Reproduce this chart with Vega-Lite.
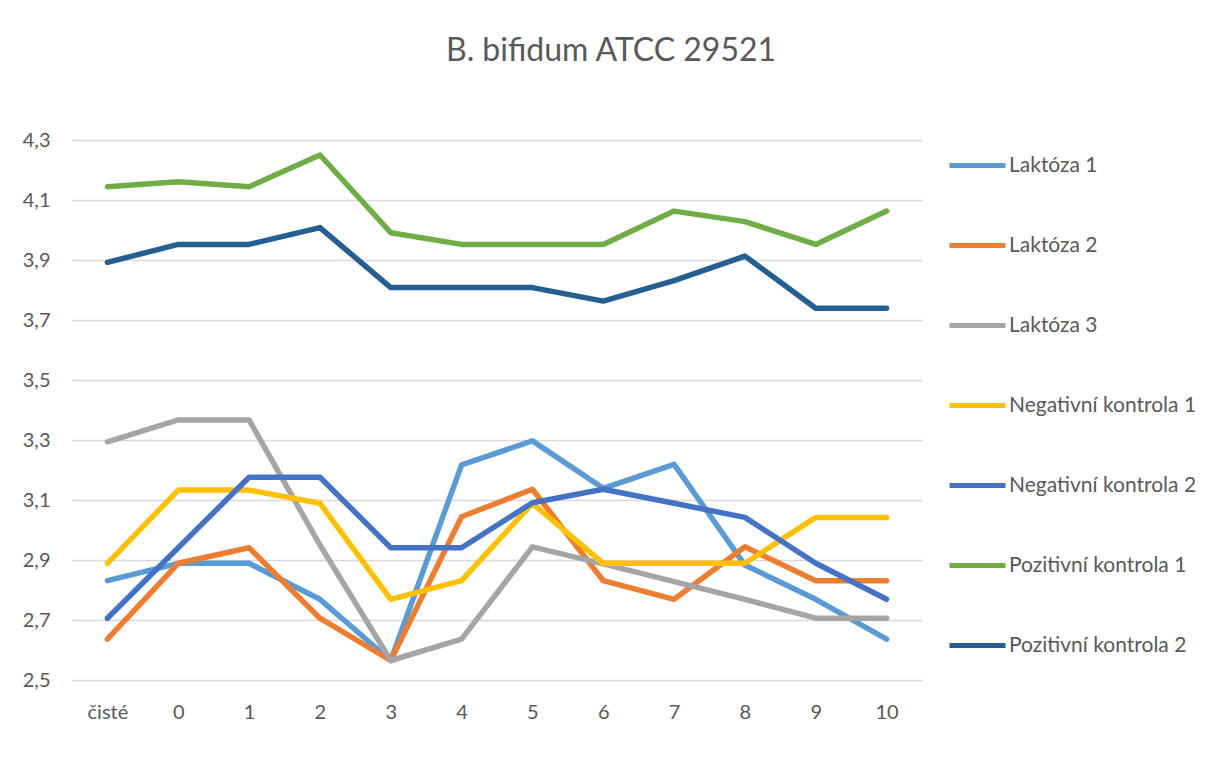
{
  "$schema": "https://vega.github.io/schema/vega-lite/v6.json",
  "autosize": {"type": "none"},
  "padding": {"left": 72, "top": 140, "right": 300, "bottom": 80},
  "width": 850,
  "height": 540,
  "background": "white",
  "title": {
    "text": "B. bifidum ATCC 29521",
    "anchor": "middle",
    "frame": "group",
    "dx": 114,
    "offset": 62,
    "font": "Lato",
    "fontSize": 32,
    "fontWeight": "normal",
    "color": "#595959"
  },
  "data": {
    "values": [
      {"t": "čisté", "s": "Laktóza 1", "v": 2.831},
      {"t": "0", "s": "Laktóza 1", "v": 2.889},
      {"t": "1", "s": "Laktóza 1", "v": 2.889},
      {"t": "2", "s": "Laktóza 1", "v": 2.769},
      {"t": "3", "s": "Laktóza 1", "v": 2.565},
      {"t": "4", "s": "Laktóza 1", "v": 3.217},
      {"t": "5", "s": "Laktóza 1", "v": 3.297},
      {"t": "6", "s": "Laktóza 1", "v": 3.139},
      {"t": "7", "s": "Laktóza 1", "v": 3.219},
      {"t": "8", "s": "Laktóza 1", "v": 2.883},
      {"t": "9", "s": "Laktóza 1", "v": 2.769},
      {"t": "10", "s": "Laktóza 1", "v": 2.636},
      {"t": "čisté", "s": "Laktóza 2", "v": 2.636},
      {"t": "0", "s": "Laktóza 2", "v": 2.889},
      {"t": "1", "s": "Laktóza 2", "v": 2.941},
      {"t": "2", "s": "Laktóza 2", "v": 2.706},
      {"t": "3", "s": "Laktóza 2", "v": 2.565},
      {"t": "4", "s": "Laktóza 2", "v": 3.044},
      {"t": "5", "s": "Laktóza 2", "v": 3.136},
      {"t": "6", "s": "Laktóza 2", "v": 2.831},
      {"t": "7", "s": "Laktóza 2", "v": 2.769},
      {"t": "8", "s": "Laktóza 2", "v": 2.944},
      {"t": "9", "s": "Laktóza 2", "v": 2.831},
      {"t": "10", "s": "Laktóza 2", "v": 2.831},
      {"t": "čisté", "s": "Laktóza 3", "v": 3.294},
      {"t": "0", "s": "Laktóza 3", "v": 3.367},
      {"t": "1", "s": "Laktóza 3", "v": 3.367},
      {"t": "2", "s": "Laktóza 3", "v": 2.95},
      {"t": "3", "s": "Laktóza 3", "v": 2.565},
      {"t": "4", "s": "Laktóza 3", "v": 2.636},
      {"t": "5", "s": "Laktóza 3", "v": 2.944},
      {"t": "6", "s": "Laktóza 3", "v": 2.887},
      {"t": "7", "s": "Laktóza 3", "v": 2.828},
      {"t": "8", "s": "Laktóza 3", "v": 2.769},
      {"t": "9", "s": "Laktóza 3", "v": 2.706},
      {"t": "10", "s": "Laktóza 3", "v": 2.706},
      {"t": "čisté", "s": "Negativní kontrola 1", "v": 2.889},
      {"t": "0", "s": "Negativní kontrola 1", "v": 3.133},
      {"t": "1", "s": "Negativní kontrola 1", "v": 3.133},
      {"t": "2", "s": "Negativní kontrola 1", "v": 3.089},
      {"t": "3", "s": "Negativní kontrola 1", "v": 2.769},
      {"t": "4", "s": "Negativní kontrola 1", "v": 2.831},
      {"t": "5", "s": "Negativní kontrola 1", "v": 3.089},
      {"t": "6", "s": "Negativní kontrola 1", "v": 2.889},
      {"t": "7", "s": "Negativní kontrola 1", "v": 2.889},
      {"t": "8", "s": "Negativní kontrola 1", "v": 2.889},
      {"t": "9", "s": "Negativní kontrola 1", "v": 3.042},
      {"t": "10", "s": "Negativní kontrola 1", "v": 3.042},
      {"t": "čisté", "s": "Negativní kontrola 2", "v": 2.706},
      {"t": "0", "s": "Negativní kontrola 2", "v": 2.941},
      {"t": "1", "s": "Negativní kontrola 2", "v": 3.176},
      {"t": "2", "s": "Negativní kontrola 2", "v": 3.176},
      {"t": "3", "s": "Negativní kontrola 2", "v": 2.941},
      {"t": "4", "s": "Negativní kontrola 2", "v": 2.941},
      {"t": "5", "s": "Negativní kontrola 2", "v": 3.091},
      {"t": "6", "s": "Negativní kontrola 2", "v": 3.136},
      {"t": "7", "s": "Negativní kontrola 2", "v": 3.089},
      {"t": "8", "s": "Negativní kontrola 2", "v": 3.042},
      {"t": "9", "s": "Negativní kontrola 2", "v": 2.889},
      {"t": "10", "s": "Negativní kontrola 2", "v": 2.769},
      {"t": "čisté", "s": "Pozitivní kontrola 1", "v": 4.144},
      {"t": "0", "s": "Pozitivní kontrola 1", "v": 4.161},
      {"t": "1", "s": "Pozitivní kontrola 1", "v": 4.144},
      {"t": "2", "s": "Pozitivní kontrola 1", "v": 4.25},
      {"t": "3", "s": "Pozitivní kontrola 1", "v": 3.991},
      {"t": "4", "s": "Pozitivní kontrola 1", "v": 3.952},
      {"t": "5", "s": "Pozitivní kontrola 1", "v": 3.952},
      {"t": "6", "s": "Pozitivní kontrola 1", "v": 3.952},
      {"t": "7", "s": "Pozitivní kontrola 1", "v": 4.063},
      {"t": "8", "s": "Pozitivní kontrola 1", "v": 4.028},
      {"t": "9", "s": "Pozitivní kontrola 1", "v": 3.952},
      {"t": "10", "s": "Pozitivní kontrola 1", "v": 4.063},
      {"t": "čisté", "s": "Pozitivní kontrola 2", "v": 3.892},
      {"t": "0", "s": "Pozitivní kontrola 2", "v": 3.952},
      {"t": "1", "s": "Pozitivní kontrola 2", "v": 3.952},
      {"t": "2", "s": "Pozitivní kontrola 2", "v": 4.008},
      {"t": "3", "s": "Pozitivní kontrola 2", "v": 3.808},
      {"t": "4", "s": "Pozitivní kontrola 2", "v": 3.808},
      {"t": "5", "s": "Pozitivní kontrola 2", "v": 3.808},
      {"t": "6", "s": "Pozitivní kontrola 2", "v": 3.763},
      {"t": "7", "s": "Pozitivní kontrola 2", "v": 3.831},
      {"t": "8", "s": "Pozitivní kontrola 2", "v": 3.913},
      {"t": "9", "s": "Pozitivní kontrola 2", "v": 3.739},
      {"t": "10", "s": "Pozitivní kontrola 2", "v": 3.739}
    ]
  },
  "mark": {"type": "line", "strokeWidth": 5.5, "strokeCap": "round", "strokeJoin": "round"},
  "encoding": {
    "x": {
      "field": "t",
      "type": "ordinal",
      "sort": ["čisté", "0", "1", "2", "3", "4", "5", "6", "7", "8", "9", "10"],
      "scale": {"type": "point", "padding": 0.5},
      "axis": {
        "title": null,
        "labelAngle": 0,
        "domain": false,
        "ticks": false,
        "grid": false,
        "labelPadding": 22,
        "labelFont": "Lato",
        "labelFontSize": 20,
        "labelColor": "#595959"
      }
    },
    "y": {
      "field": "v",
      "type": "quantitative",
      "scale": {"domain": [2.5, 4.3], "nice": false, "zero": false},
      "axis": {
        "title": null,
        "values": [2.5, 2.7, 2.9, 3.1, 3.3, 3.5, 3.7, 3.9, 4.1, 4.3],
        "labelExpr": "replace(format(datum.value, '.1f'), '.', ',')",
        "domain": false,
        "ticks": false,
        "grid": true,
        "gridColor": "#d9d9d9",
        "gridWidth": 1.5,
        "labelPadding": 22,
        "labelFont": "Lato",
        "labelFontSize": 20,
        "labelColor": "#595959"
      }
    },
    "color": {
      "field": "s",
      "type": "nominal",
      "scale": {
        "domain": ["Laktóza 1", "Laktóza 2", "Laktóza 3", "Negativní kontrola 1", "Negativní kontrola 2", "Pozitivní kontrola 1", "Pozitivní kontrola 2"],
        "range": ["#5B9BD5", "#ED7D31", "#A5A5A5", "#FFC000", "#4472C4", "#70AD47", "#255E91"]
      },
      "legend": {
        "title": null,
        "orient": "none",
        "legendX": 875,
        "legendY": -5,
        "symbolType": "stroke",
        "symbolSize": 3136,
        "symbolStrokeWidth": 5,
        "labelOffset": 1,
        "rowPadding": 39,
        "labelFont": "Lato",
        "labelFontSize": 21,
        "labelColor": "#595959",
        "labelLimit": 300,
        "padding": 0
      }
    }
  },
  "config": {
    "view": {"stroke": null}
  }
}
